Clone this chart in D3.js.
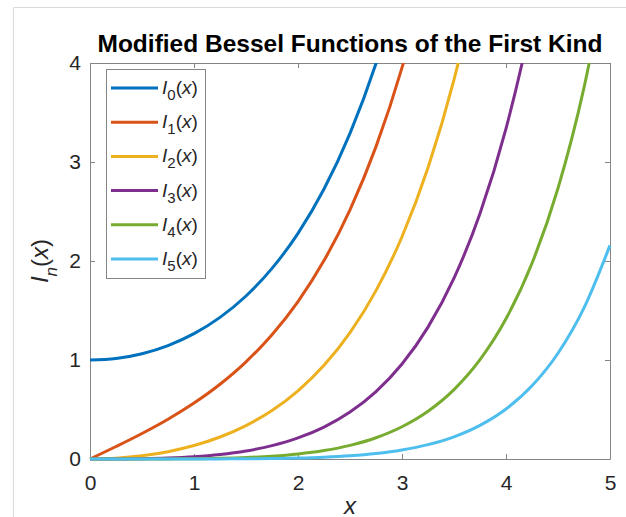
<!DOCTYPE html>
<html>
<head>
<meta charset="utf-8">
<script src="https://cdn.jsdelivr.net/npm/d3@7"></script>
<style>
  body { margin: 0; background: #ffffff; }
  svg { display: block; }
  text { font-family: "Liberation Sans", Arial, sans-serif; fill: #262626; }
</style>
</head>
<body>
<script>

// sample positions along x (each series uses the first n of these)
var xValues = [0, 0.25, 0.5, 0.75, 1, 1.25, 1.5, 1.75, 2, 2.25, 2.5, 2.75, 3, 3.25, 3.5, 3.75, 4, 4.25, 4.5, 4.75, 5];

// values (only up to just past the top of the plot)
var i0Values = [1, 1.0157, 1.0635, 1.1456, 1.2661, 1.4305, 1.6467, 1.9253, 2.2796, 2.7271, 3.2898, 3.9959, 4.8808, 5.9893];
var i1Values = [0, 0.1260, 0.2579, 0.4020, 0.5652, 0.7553, 0.9817, 1.2555, 1.5906, 2.0040, 2.5167, 3.1554, 3.9534, 4.9525, 6.2058];
var i2Values = [0, 0.0079, 0.0319, 0.0737, 0.1357, 0.2220, 0.3378, 0.4904, 0.6889, 0.9458, 1.2765, 1.7011, 2.2452, 2.9416, 3.8320, 4.9696, 6.4222];
var i3Values = [0, 0.0003, 0.0026, 0.0091, 0.0222, 0.0448, 0.0808, 0.1347, 0.2127, 0.3226, 0.4744, 0.6811, 0.9598, 1.3321, 1.8264, 2.4791, 3.3373, 4.4616, 5.9301];
var i4Values = [0, 0.00001, 0.0002, 0.0008, 0.0027, 0.0069, 0.0147, 0.0284, 0.0507, 0.0855, 0.1380, 0.2150, 0.3257, 0.4824, 0.7011, 1.0030, 1.4163, 1.9775, 2.7347, 3.7510, 5.1082];
var i5Values = [0, 0, 0.00001, 0.00006, 0.0003, 0.0008, 0.0022, 0.0049, 0.0098, 0.0185, 0.0328, 0.0558, 0.0912, 0.1448, 0.2240, 0.3393, 0.5047, 0.7393, 1.0684, 1.5261, 2.1580];

var seriesOrders = ["0", "1", "2", "3", "4", "5"];
var seriesColors = ["#0072bd", "#d95319", "#edb120", "#7e2f8e", "#77ac30", "#4dbeee"];

var xTicks = [0, 1, 2, 3, 4, 5];
var yTicks = [0, 1, 2, 3, 4];

window.onload = function() {

  var width = 626;
  var height = 517;

  // plot box
  var left = 90;
  var right = 610;
  var top = 63;
  var bottom = 459;

  var axisColor = "#858585";

  var svg = d3.select("body")
              .append("svg")
              .attr("width", width)
              .attr("height", height);

  // faint frame round the figure
  svg.append("line")
     .attr("x1", 13.5).attr("x2", width)
     .attr("y1", 7.5).attr("y2", 7.5)
     .attr("stroke", "#dadada");
  svg.append("line")
     .attr("x1", 13.5).attr("x2", 13.5)
     .attr("y1", 7.5).attr("y2", height)
     .attr("stroke", "#dadada");

  var xScale = d3.scaleLinear()
                 .domain([0, 5])
                 .range([left, right]);

  var yScale = d3.scaleLinear()
                 .domain([0, 4])
                 .range([bottom, top]);

  var intFormat = d3.format("d");

  // bottom axis with labels
  var xAxis = svg.append("g")
     .attr("transform", "translate(0," + bottom + ")")
     .call(d3.axisBottom(xScale).tickValues(xTicks).tickFormat(intFormat)
             .tickSizeInner(-5).tickSizeOuter(0).tickPadding(16));

  // left axis with labels
  var yAxis = svg.append("g")
     .attr("transform", "translate(" + left + ",0)")
     .call(d3.axisLeft(yScale).tickValues(yTicks).tickFormat(intFormat)
             .tickSizeInner(-5).tickSizeOuter(0).tickPadding(9));

  // top and right: ticks only
  var xAxisTop = svg.append("g")
     .attr("transform", "translate(0," + top + ")")
     .call(d3.axisTop(xScale).tickValues(xTicks).tickSizeInner(-5).tickSizeOuter(0).tickFormat(""));

  var yAxisRight = svg.append("g")
     .attr("transform", "translate(" + right + ",0)")
     .call(d3.axisRight(yScale).tickValues(yTicks).tickSizeInner(-5).tickSizeOuter(0).tickFormat(""));

  [xAxis, yAxis, xAxisTop, yAxisRight].forEach(function(g) {
    g.attr("font-family", null).attr("font-size", null);
    g.selectAll("path, line").attr("stroke", axisColor);
    g.selectAll("text").attr("fill", "#262626").style("font-size", "21px");
  });

  // clip lines to the plot box (a little slack at bottom and left)
  svg.append("clipPath")
     .attr("id", "plotClip")
     .append("rect")
     .attr("x", left - 3)
     .attr("y", top)
     .attr("width", right - left + 6)
     .attr("height", bottom - top + 3);

  var allValues = [i0Values, i1Values, i2Values, i3Values, i4Values, i5Values];

  var series = allValues.map(function(values, i) {
    return {
      order: seriesOrders[i],
      color: seriesColors[i],
      points: values.map(function(v, j) { return [xValues[j], v]; })
    };
  });

  var line = d3.line()
               .x(function(d) { return xScale(d[0]); })
               .y(function(d) { return yScale(d[1]); })
               .curve(d3.curveMonotoneX);

  svg.append("g")
     .attr("clip-path", "url(#plotClip)")
     .selectAll("path")
     .data(series)
     .enter()
     .append("path")
     .attr("d", function(d) { return line(d.points); })
     .attr("fill", "none")
     .attr("stroke", function(d) { return d.color; })
     .attr("stroke-width", 3)
     .attr("stroke-linejoin", "round");

  // title
  svg.append("text")
     .attr("x", (left + right) / 2)
     .attr("y", 52)
     .attr("text-anchor", "middle")
     .style("font-size", "24.5px")
     .style("font-weight", "bold")
     .style("fill", "#000000")
     .text("Modified Bessel Functions of the First Kind");

  // x-axis title (sits at the bottom edge, as in the original)
  svg.append("text")
     .attr("x", (left + right) / 2)
     .attr("y", 514)
     .attr("text-anchor", "middle")
     .style("font-size", "24px")
     .style("font-style", "italic")
     .text("x");

  // y-axis title I_n(x)
  var yTitle = svg.append("text")
     .attr("transform", "translate(48," + ((top + bottom) / 2) + ") rotate(-90)")
     .attr("text-anchor", "middle")
     .style("font-size", "24px");
  yTitle.append("tspan").style("font-style", "italic").text("I");
  yTitle.append("tspan").style("font-style", "italic").style("font-size", "17px").attr("dy", 9).text("n");
  yTitle.append("tspan").attr("dy", -9).text("(");
  yTitle.append("tspan").style("font-style", "italic").text("x");
  yTitle.append("tspan").text(")");

  // legend box
  var legendX = 106.5;
  var legendY = 69.5;
  var rowStep = 34.2;

  svg.append("rect")
     .attr("x", legendX)
     .attr("y", legendY)
     .attr("width", 99)
     .attr("height", 209)
     .attr("fill", "#ffffff")
     .attr("stroke", axisColor);

  var legend = svg.selectAll(".legend")
                  .data(series)
                  .enter()
                  .append("g")
                  .attr("class", "legend")
                  .attr("transform", function(d, i) {
                    return "translate(0," + (88 + i * rowStep) + ")";
                  });

  legend.append("line")
        .attr("x1", 111)
        .attr("x2", 158)
        .attr("stroke", function(d) { return d.color; })
        .attr("stroke-width", 3);

  var legendText = legend.append("text")
        .attr("x", 162)
        .attr("y", 6)
        .style("font-size", "19px");
  legendText.append("tspan").style("font-style", "italic").text("I");
  legendText.append("tspan").style("font-size", "15px").attr("dy", 6).text(function(d) { return d.order; });
  legendText.append("tspan").attr("dy", -6).text("(");
  legendText.append("tspan").style("font-style", "italic").text("x");
  legendText.append("tspan").text(")");

};
</script>
</body>
</html>
